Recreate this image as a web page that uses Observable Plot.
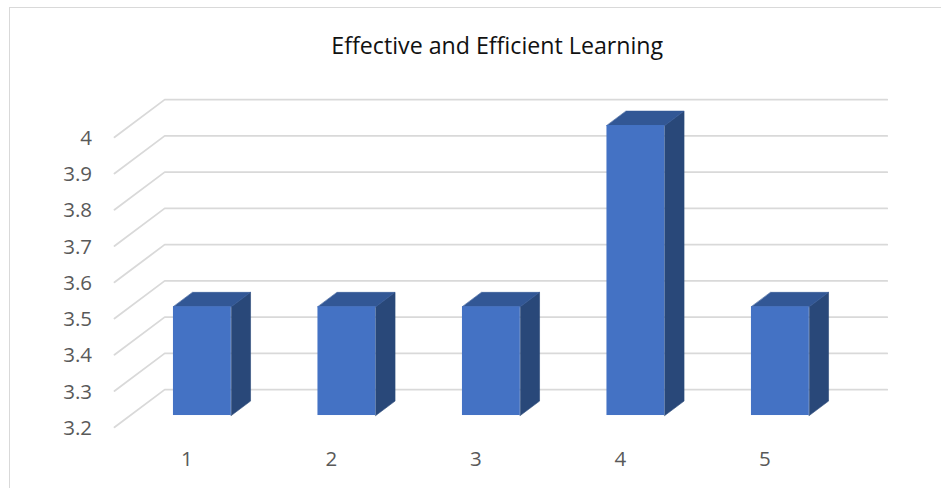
<!DOCTYPE html>
<html>
<head>
<meta charset="utf-8">
<script src="https://cdn.jsdelivr.net/npm/d3@7"></script>
<script src="https://cdn.jsdelivr.net/npm/@observablehq/plot@0.6"></script>
<style>
html,body{margin:0;padding:0;background:#fff;}
#chart{position:relative;width:941px;height:488px;overflow:hidden;font-family:"Open Sans",sans-serif;}
#chart svg{display:block;position:absolute;left:0;top:0;}
#edge{position:absolute;left:9px;top:7px;right:0;bottom:-4px;border-left:1.5px solid #d9d9d9;border-top:1.5px solid #d9d9d9;}
</style>
</head>
<body>
<div id="chart"><div id="edge"></div></div>
<script>
const titleText = "Effective and Efficient Learning";
const categories = [1, 2, 3, 4, 5];
const values = [3.5, 3.5, 3.5, 4, 3.5];
const yTicks = [3.2, 3.3, 3.4, 3.5, 3.6, 3.7, 3.8, 3.9, 4];

// Oblique projection: a unit of depth moves a point right (categories) and up (values).
const depthX = 0.3474, depthY = 0.1036;
const barFront = 0.311, barBack = 0.695, barHalf = 0.2;
const baseValue = 3.2;
const px = (c, z) => c + z * depthX;
const py = (v, z) => v + z * depthY;

const gridPoints = yTicks.flatMap(t => [
  {t, x: px(0.5, 0), y: py(t, 0)},
  {t, x: px(0.5, 1), y: py(t, 1)},
  {t, x: px(5.5, 1), y: py(t, 1)}
]);
const bars = categories.map((c, i) => ({c, v: values[i]}));
const topFace = bars.flatMap(({c, v}) => [
  {c, x: px(c - barHalf, barFront), y: py(v, barFront)},
  {c, x: px(c + barHalf, barFront), y: py(v, barFront)},
  {c, x: px(c + barHalf, barBack), y: py(v, barBack)},
  {c, x: px(c - barHalf, barBack), y: py(v, barBack)}
]);
const sideFace = bars.flatMap(({c, v}) => [
  {c, x: px(c + barHalf, barFront), y: py(v, barFront)},
  {c, x: px(c + barHalf, barBack), y: py(v, barBack)},
  {c, x: px(c + barHalf, barBack), y: py(baseValue, barBack)},
  {c, x: px(c + barHalf, barFront), y: py(baseValue, barFront)}
]);

const face = (data, color) => Plot.line(data, {
  x: "x", y: "y", z: "c", fill: color, stroke: color, strokeWidth: 0.6, curve: "linear-closed"
});

const svg = Plot.plot({
  width: 941,
  height: 488,
  marginLeft: 114,
  marginRight: 104.5,
  marginTop: 136.7,
  marginBottom: 61.3,
  style: {background: "transparent", fontFamily: '"Open Sans", sans-serif'},
  x: {domain: [0.5, 5.5]},
  y: {domain: [3.2, 4]},
  marks: [
    Plot.line(gridPoints, {x: "x", y: "y", z: "t", stroke: "#d9d9d9", strokeWidth: 1.8}),
    face(sideFace, "#294879"),
    face(topFace, "#325795"),
    Plot.rect(bars, {
      x1: d => px(d.c - barHalf, barFront),
      x2: d => px(d.c + barHalf, barFront),
      y1: () => py(baseValue, barFront),
      y2: d => py(d.v, barFront),
      fill: "#4472c4"
    }),
    Plot.axisY({
      ticks: yTicks, tickSize: 0, tickPadding: 22.5, tickFormat: d => String(d),
      label: null, fontSize: 20.5, fill: "#595959", dy: 1
    }),
    Plot.axisX({
      ticks: categories, tickSize: 0, tickPadding: 24, tickFormat: d => String(d),
      label: null, fontSize: 20.5, fill: "#595959"
    }),
    Plot.text([titleText], {
      frameAnchor: "top", dx: 21.5, dy: -99.5, fontSize: 23.2, fill: "#111", text: d => d
    })
  ]
});
document.getElementById("chart").appendChild(svg);
</script>
</body>
</html>
